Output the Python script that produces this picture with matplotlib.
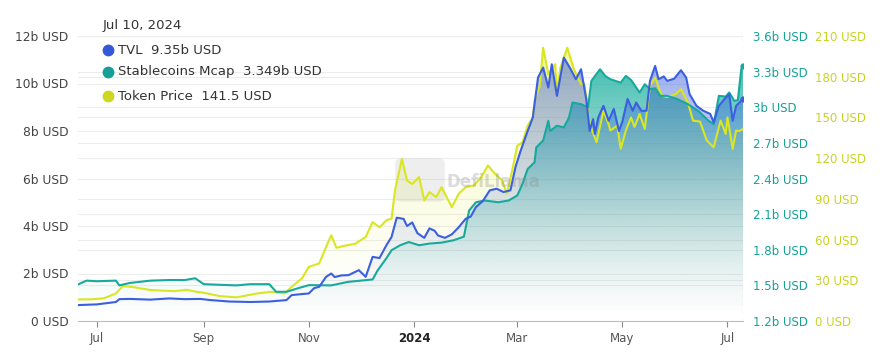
import matplotlib
matplotlib.use("Agg")
import matplotlib.pyplot as plt
import matplotlib.dates as mdates
import matplotlib.transforms as mtransforms
from matplotlib.colors import to_rgb
from matplotlib.patches import FancyBboxPatch
import numpy as np
import pandas as pd

# --- data ---
tvl_dates = ["2023-06-20", "2023-07-01", "2023-07-12", "2023-07-14", "2023-07-20", "2023-08-01",
             "2023-08-12", "2023-08-21", "2023-08-30", "2023-09-05", "2023-09-16", "2023-09-28",
             "2023-10-09", "2023-10-19", "2023-10-22", "2023-10-26", "2023-11-01", "2023-11-04",
             "2023-11-07", "2023-11-11", "2023-11-14", "2023-11-16", "2023-11-20", "2023-11-24",
             "2023-11-30", "2023-12-04", "2023-12-08", "2023-12-12", "2023-12-16", "2023-12-19",
             "2023-12-22", "2023-12-26", "2023-12-28", "2023-12-31", "2024-01-03", "2024-01-07",
             "2024-01-10", "2024-01-13", "2024-01-15", "2024-01-19", "2024-01-23", "2024-01-27",
             "2024-01-31", "2024-02-03", "2024-02-06", "2024-02-10", "2024-02-14", "2024-02-18",
             "2024-02-22", "2024-02-26", "2024-02-29", "2024-03-03", "2024-03-07", "2024-03-10",
             "2024-03-13", "2024-03-16", "2024-03-19", "2024-03-21", "2024-03-24", "2024-03-28",
             "2024-04-01", "2024-04-04", "2024-04-07", "2024-04-10", "2024-04-12", "2024-04-14",
             "2024-04-15", "2024-04-17", "2024-04-20", "2024-04-23", "2024-04-26", "2024-04-29",
             "2024-05-01", "2024-05-04", "2024-05-07", "2024-05-09", "2024-05-12", "2024-05-15",
             "2024-05-17", "2024-05-20", "2024-05-22", "2024-05-25", "2024-05-27", "2024-05-31",
             "2024-06-04", "2024-06-07", "2024-06-09", "2024-06-13", "2024-06-17", "2024-06-21",
             "2024-06-23", "2024-06-26", "2024-06-30", "2024-07-02", "2024-07-04", "2024-07-06",
             "2024-07-08", "2024-07-10"]
tvl_values = [0.67, 0.70, 0.80, 0.92, 0.93, 0.90, 0.95, 0.92, 0.93, 0.88, 0.82, 0.80,
              0.82, 0.88, 1.09, 1.12, 1.16, 1.38, 1.44, 1.86, 2.00, 1.85, 1.92, 1.93,
              2.14, 1.86, 2.70, 2.65, 3.19, 3.54, 4.35, 4.30, 4.00, 4.15, 3.70, 3.50,
              3.90, 3.80, 3.60, 3.50, 3.65, 3.95, 4.30, 4.40, 4.80, 5.05, 5.50, 5.57,
              5.43, 5.50, 6.50, 7.18, 8.00, 8.57, 10.25, 10.67, 9.83, 10.81, 9.48, 11.09,
              10.60, 10.18, 10.60, 9.35, 8.00, 8.50, 7.88, 8.57, 9.06, 8.43, 8.93, 8.00,
              8.40, 9.35, 8.85, 9.20, 8.85, 8.85, 10.11, 10.74, 10.18, 10.30, 10.11, 10.20,
              10.56, 10.25, 9.55, 9.06, 8.85, 8.72, 8.36, 9.06, 9.41, 9.55, 8.43, 9.06,
              9.20, 9.35]

stable_dates = ["2023-06-20", "2023-06-25", "2023-07-01", "2023-07-12", "2023-07-14", "2023-07-20",
                "2023-08-01", "2023-08-12", "2023-08-21", "2023-08-27", "2023-09-01", "2023-09-10",
                "2023-09-20", "2023-09-28", "2023-10-09", "2023-10-13", "2023-10-19", "2023-10-26",
                "2023-11-01", "2023-11-14", "2023-11-24", "2023-12-04", "2023-12-08", "2023-12-11",
                "2023-12-16", "2023-12-19", "2023-12-24", "2023-12-29", "2024-01-04", "2024-01-10",
                "2024-01-17", "2024-01-24", "2024-01-30", "2024-02-02", "2024-02-06", "2024-02-11",
                "2024-02-19", "2024-02-25", "2024-03-01", "2024-03-04", "2024-03-07", "2024-03-11",
                "2024-03-12", "2024-03-16", "2024-03-19", "2024-03-20", "2024-03-24", "2024-03-28",
                "2024-03-31", "2024-04-02", "2024-04-07", "2024-04-11", "2024-04-13", "2024-04-18",
                "2024-04-21", "2024-04-24", "2024-04-30", "2024-05-03", "2024-05-06", "2024-05-11",
                "2024-05-14", "2024-05-17", "2024-05-20", "2024-05-23", "2024-05-27", "2024-06-02",
                "2024-06-08", "2024-06-14", "2024-06-20", "2024-06-23", "2024-06-26", "2024-06-30",
                "2024-07-02", "2024-07-05", "2024-07-07", "2024-07-09", "2024-07-10"]
stable_values = [1.508, 1.540, 1.535, 1.540, 1.500, 1.520, 1.540, 1.545, 1.545, 1.560, 1.510, 1.505,
                 1.500, 1.510, 1.510, 1.446, 1.446, 1.477, 1.502, 1.500, 1.530, 1.544, 1.550, 1.628,
                 1.728, 1.796, 1.838, 1.865, 1.838, 1.852, 1.860, 1.880, 1.910, 2.130, 2.200, 2.215,
                 2.200, 2.215, 2.257, 2.355, 2.480, 2.536, 2.662, 2.720, 2.886, 2.800, 2.845, 2.830,
                 2.914, 3.040, 3.026, 3.000, 3.222, 3.320, 3.264, 3.236, 3.207, 3.264, 3.230, 3.124,
                 3.194, 3.152, 3.160, 3.096, 3.096, 3.068, 3.026, 2.970, 2.886, 2.858, 3.096, 3.090,
                 3.124, 3.054, 3.060, 3.320, 3.349]

price_dates = ["2023-06-20", "2023-06-28", "2023-07-05", "2023-07-12", "2023-07-16", "2023-07-22",
               "2023-08-01", "2023-08-15", "2023-08-22", "2023-08-28", "2023-09-01", "2023-09-10",
               "2023-09-20", "2023-09-25", "2023-10-02", "2023-10-10", "2023-10-18", "2023-10-22",
               "2023-10-28", "2023-11-01", "2023-11-07", "2023-11-11", "2023-11-14", "2023-11-17",
               "2023-11-22", "2023-11-28", "2023-12-04", "2023-12-08", "2023-12-12", "2023-12-16",
               "2023-12-19", "2023-12-21", "2023-12-25", "2023-12-28", "2023-12-31", "2024-01-04",
               "2024-01-07", "2024-01-10", "2024-01-14", "2024-01-17", "2024-01-23", "2024-01-27",
               "2024-01-31", "2024-02-05", "2024-02-09", "2024-02-13", "2024-02-17", "2024-02-21",
               "2024-02-24", "2024-02-27", "2024-03-01", "2024-03-04", "2024-03-07", "2024-03-10",
               "2024-03-11", "2024-03-14", "2024-03-16", "2024-03-19", "2024-03-23", "2024-03-24",
               "2024-03-26", "2024-03-30", "2024-04-03", "2024-04-07", "2024-04-09", "2024-04-12",
               "2024-04-16", "2024-04-20", "2024-04-23", "2024-04-24", "2024-04-28", "2024-04-30",
               "2024-05-03", "2024-05-06", "2024-05-08", "2024-05-11", "2024-05-14", "2024-05-17",
               "2024-05-20", "2024-05-22", "2024-05-24", "2024-05-27", "2024-06-01", "2024-06-04",
               "2024-06-08", "2024-06-11", "2024-06-15", "2024-06-19", "2024-06-23", "2024-06-26",
               "2024-06-27", "2024-06-30", "2024-07-01", "2024-07-04", "2024-07-06", "2024-07-08",
               "2024-07-10"]
price_values = [15.9, 16.0, 16.7, 20.3, 25.7, 25.0, 22.8, 22.0, 23.0, 21.5, 20.8, 18.4,
                17.4, 18.6, 20.3, 21.5, 20.3, 25.2, 31.4, 39.9, 42.4, 54.6, 63.2, 54.0,
                55.5, 57.0, 61.9, 72.9, 69.0, 74.2, 75.4, 96.2, 119.5, 103.5, 101.0, 106.0,
                88.9, 95.0, 91.3, 98.6, 83.9, 93.8, 98.6, 100.0, 106.0, 114.6, 108.5, 104.0,
                93.8, 110.9, 129.2, 131.7, 143.9, 150.0, 162.3, 173.3, 201.4, 181.9, 189.2, 167.2,
                186.7, 201.4, 185.0, 174.5, 174.5, 145.2, 131.7, 154.9, 145.0, 140.3, 144.0, 126.8,
                140.3, 150.0, 143.0, 152.5, 141.5, 173.3, 179.4, 172.0, 166.0, 165.0, 167.2, 170.9,
                161.0, 147.6, 147.0, 132.9, 128.0, 142.7, 147.6, 137.8, 150.0, 126.8, 140.3, 140.0,
                141.5]

left_ticks = [0, 2, 4, 6, 8, 10, 12]
left_labels = ["0 USD", "2b USD", "4b USD", "6b USD", "8b USD", "10b USD", "12b USD"]
stable_ticks = [1.2, 1.5, 1.8, 2.1, 2.4, 2.7, 3.0, 3.3, 3.6]
stable_labels = ["1.2b USD", "1.5b USD", "1.8b USD", "2.1b USD", "2.4b USD", "2.7b USD",
                 "3b USD", "3.3b USD", "3.6b USD"]
price_ticks = [0, 30, 60, 90, 120, 150, 180, 210]
price_labels = ["0 USD", "30 USD", "60 USD", "90 USD", "120 USD", "150 USD", "180 USD", "210 USD"]
month_ticks = ["2023-07-01", "2023-09-01", "2023-11-01", "2024-01-01", "2024-03-01",
               "2024-05-01", "2024-07-01"]
month_labels = ["Jul", "Sep", "Nov", "2024", "Mar", "May", "Jul"]

TVL_COLOR = "#3b5fe0"
STABLE_COLOR = "#17aa9c"
PRICE_COLOR = "#d9e622"
STABLE_TEXT = "#14a396"
PRICE_TEXT = "#c8d423"

W, H = 880, 362


def px(x, y):
    # pixel position -> figure fraction
    return x / W, 1 - y / H


def gradient_area(axis, dates, values, color, alpha_top, bottom, top, power=1.5):
    poly = axis.fill_between(dates, values, bottom, facecolor="none", edgecolor="none")
    xs = mdates.date2num(dates)
    grad = np.zeros((256, 1, 4))
    grad[:, 0, :3] = to_rgb(color)
    grad[:, 0, 3] = alpha_top * np.linspace(0.0, 1.0, 256) ** power
    im = axis.imshow(grad, aspect="auto", origin="lower", interpolation="bilinear",
                     extent=[xs.min(), xs.max(), bottom, top], zorder=1)
    im.set_clip_path(poly.get_paths()[0], transform=axis.transData)


tvl_d = pd.to_datetime(tvl_dates)
stable_d = pd.to_datetime(stable_dates)
price_d = pd.to_datetime(price_dates)
start, end = pd.Timestamp("2023-06-20"), pd.Timestamp("2024-07-10")

fig = plt.figure(figsize=(W / 100, H / 100), dpi=100)
fig.patch.set_facecolor("white")
ax = fig.add_axes([78 / W, (H - 321) / H, (743 - 78) / W, (321 - 36) / H])
ax2 = ax.twinx()
ax3 = ax.twinx()
# draw order: price area at the bottom, then stablecoins, TVL area and all lines on top
ax3.set_zorder(1)
ax2.set_zorder(2)
ax.set_zorder(3)
ax.patch.set_visible(False)

gradient_area(ax3, price_d, price_values, "#e4ee3c", 0.5, 0, 210)
gradient_area(ax2, stable_d, stable_values, "#1aaf9f", 0.95, 1.2, 3.6)
gradient_area(ax, tvl_d, tvl_values, "#3a5fdf", 0.6, 0, 12)

# lines all live in the top axes, each one placed by its own scale
ax.plot(price_d, price_values, color=PRICE_COLOR, lw=1.5, zorder=3, transform=ax3.transData)
ax.plot(stable_d, stable_values, color=STABLE_COLOR, lw=1.5, zorder=3, transform=ax2.transData)
ax.plot(tvl_d, tvl_values, color=TVL_COLOR, lw=1.5, zorder=3)

for a, lo, hi in [(ax, 0, 12), (ax2, 1.2, 3.6), (ax3, 0, 210)]:
    a.set_xlim(start, end)
    a.set_ylim(lo, hi)
    for s in a.spines.values():
        s.set_visible(False)

# grid lines of all three scales, drawn in the bottom axes
for a, ticks in [(ax, left_ticks), (ax2, stable_ticks), (ax3, price_ticks)]:
    trans = mtransforms.blended_transform_factory(ax3.transAxes, a.transData)
    for t in ticks[1:]:
        ax3.plot([0, 1], [t, t], transform=trans, color="#ededed", lw=0.8, zorder=0)

# left axis
ax.set_yticks(left_ticks)
ax.set_yticklabels(left_labels)
ax.tick_params(axis="y", length=0, pad=7, labelsize=8.8, labelcolor="#444444")

# right axes
ax2.set_yticks(stable_ticks)
ax2.set_yticklabels(stable_labels)
ax2.tick_params(axis="y", length=0, pad=7, labelsize=8.5, labelcolor=STABLE_TEXT)
ax3.spines["right"].set_position(("outward", 44.6))
ax3.set_yticks(price_ticks)
ax3.set_yticklabels(price_labels)
ax3.tick_params(axis="y", length=0, pad=7, labelsize=8.5, labelcolor=PRICE_TEXT)

# x axis
ax.spines["bottom"].set_visible(True)
ax.spines["bottom"].set_color("#bdbdbd")
ax.set_xticks(pd.to_datetime(month_ticks))
ax.set_xticklabels(month_labels)
ax.tick_params(axis="x", length=4, color="#8a8a8a", labelsize=8.5, labelcolor="#555555", pad=4)
ax.get_xticklabels()[3].set_fontweight("bold")
ax.get_xticklabels()[3].set_color("#222222")
for a in (ax2, ax3):
    a.tick_params(axis="x", bottom=False, labelbottom=False)

# hover line and end markers
ax.axvline(end, color="#aaaaaa", lw=0.8, ls=(0, (4, 3)), zorder=4)
ax.plot(tvl_d[-1:], tvl_values[-1:], "o", color=TVL_COLOR, ms=3.5, zorder=5)
ax.plot(stable_d[-1:], stable_values[-1:], "o", color=STABLE_COLOR, ms=3.5, zorder=5,
        transform=ax2.transData)

# watermark
ax3.add_patch(FancyBboxPatch(px(404, 198), 32 / W, 36 / H, boxstyle="round,pad=0.01",
                             transform=fig.transFigure, facecolor="#9a9a9a", alpha=0.16,
                             edgecolor="none", zorder=2))
fig.text(*px(446, 182), "DefiLlama", fontsize=12, fontweight="bold", color="#8c8c8c",
         alpha=0.3, va="center")

# tooltip legend
fig.text(*px(103, 26), "Jul 10, 2024", fontsize=9.5, color="#333333", va="center")
rows = [("TVL  9.35b USD", "#3359d6", 50),
        ("Stablecoins Mcap  3.349b USD", "#14a096", 72),
        ("Token Price  141.5 USD", "#cdd71f", 96)]
for label, col, y in rows:
    fig.add_artist(plt.Line2D([108 / W], [1 - y / H], marker="o", ms=7.5, color=col,
                              transform=fig.transFigure))
    fig.text(*px(118, y), label, fontsize=9.5, color="#333333", va="center")

fig.savefig("out.png", dpi=100)
